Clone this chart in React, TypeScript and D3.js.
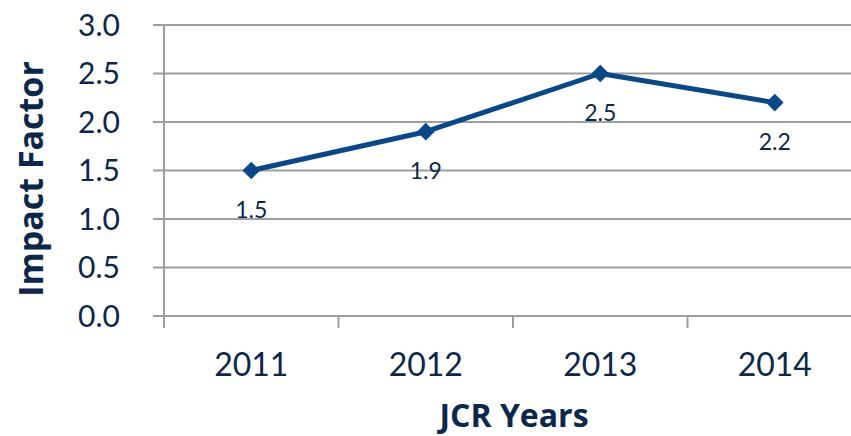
import React from "react";
import * as d3 from "d3";

const years = ["2011", "2012", "2013", "2014"];
const impact = [1.5, 1.9, 2.5, 2.2];
const yTicks = [0, 0.5, 1.0, 1.5, 2.0, 2.5, 3.0];

const W = 851;
const H = 436;
const TEXT = "#0c2749";
const LINE = "#0a4787";
const GRID = "#9e9e9e";
const FONT = "Lato, 'Open Sans', sans-serif";
const TITLE_FONT = "'Open Sans', Lato, sans-serif";

export default function App() {
  const x = d3.scaleBand<string>().domain(years).range([164, 862]);
  const y = d3.scaleLinear().domain([0, 3]).range([316, 25]);
  const cx = (d: string) => (x(d) as number) + x.bandwidth() / 2;
  const pts = years.map((d, i) => [cx(d), y(impact[i])] as [number, number]);
  const line = d3.line<[number, number]>()(pts) as string;
  const diamond = d3.symbol().type(d3.symbolDiamond2).size(200)() as string;
  const bounds = [...years.map((d) => x(d) as number), 862];

  return (
    <svg
      width={W}
      height={H}
      style={{ position: "absolute", left: 0, top: 0, background: "#fff" }}
      fontFamily={FONT}
    >
      {yTicks.map((t) => (
        <line key={"g" + t} x1={153} x2={862} y1={y(t)} y2={y(t)} stroke={GRID} strokeWidth={2} />
      ))}
      <line x1={164} x2={164} y1={y(3)} y2={328} stroke={GRID} strokeWidth={2} />
      {bounds.map((b, i) => (
        <line key={"t" + i} x1={b} x2={b} y1={316} y2={328} stroke={GRID} strokeWidth={2} />
      ))}
      {yTicks.map((t) => (
        <text
          key={"yl" + t}
          x={120}
          y={y(t)}
          dy="0.36em"
          textAnchor="end"
          fontSize={30}
          fill={TEXT}
        >
          {t.toFixed(1)}
        </text>
      ))}
      {years.map((d) => (
        <text key={"xl" + d} x={cx(d)} y={376} textAnchor="middle" fontSize={32} fill={TEXT}>
          {d}
        </text>
      ))}
      <path d={line} fill="none" stroke={LINE} strokeWidth={5} strokeLinejoin="round" />
      {pts.map((p, i) => (
        <path key={"m" + i} d={diamond} transform={`translate(${p[0]},${p[1]})`} fill={LINE} />
      ))}
      {pts.map((p, i) => (
        <text
          key={"dl" + i}
          x={p[0]}
          y={p[1] + 47}
          textAnchor="middle"
          fontSize={23}
          fill={TEXT}
        >
          {impact[i].toFixed(1)}
        </text>
      ))}
      <text
        transform={`translate(43,179) rotate(-90)`}
        textAnchor="middle"
        fontFamily={TITLE_FONT}
        fontSize={34}
        fontWeight="bold"
        fill={TEXT}
      >
        Impact Factor
      </text>
      <text
        x={514}
        y={427}
        textAnchor="middle"
        fontFamily={TITLE_FONT}
        fontSize={32}
        fontWeight="bold"
        fill={TEXT}
      >
        JCR Years
      </text>
    </svg>
  );
}
